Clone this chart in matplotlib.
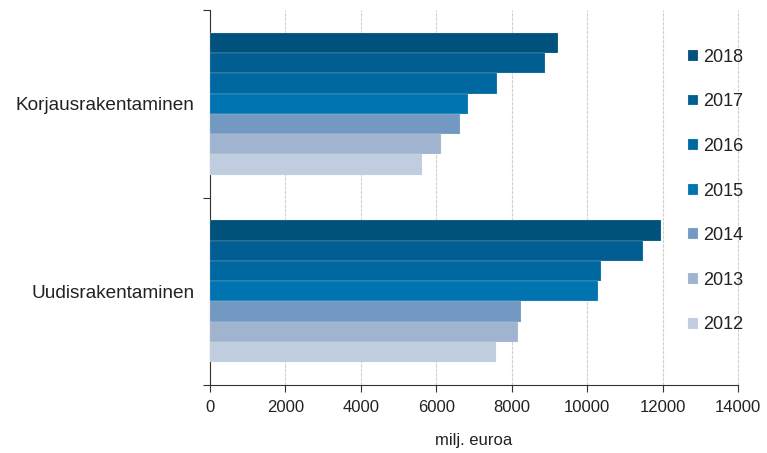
import numpy as np
import matplotlib.pyplot as plt

categories = ["Korjausrakentaminen", "Uudisrakentaminen"]
years = ["2018", "2017", "2016", "2015", "2014", "2013", "2012"]
korjaus = [9230, 8890, 7610, 6850, 6640, 6130, 5620]
uudis = [11950, 11490, 10380, 10290, 8250, 8170, 7570]
colors = ["#00527d", "#005e93", "#0068a0", "#0073b1", "#7399c2", "#a0b4cf", "#c0cdde"]

plt.rcParams['font.family'] = ['Liberation Sans', 'DejaVu Sans']

fig = plt.figure(figsize=(7.67, 4.53), dpi=100)
ax = fig.add_axes([0.2738, 0.150, 0.6884, 0.828])

values = np.array([korjaus, uudis])
centers = np.arange(len(categories)) + 0.5
h = 0.757 / len(years)
for i, y in enumerate(years):
    pos = centers - 0.757 / 2 + (i + 0.5) * h
    ax.barh(pos, values[:, i], height=h, color=colors[i], label=y,
            edgecolor="#dfe8f0", linewidth=0.15, zorder=3)

ax.set_ylim(2, 0)
ax.set_xlim(0, 14000)
ax.set_xticks(np.arange(0, 14001, 2000))
ax.set_yticks([0, 1, 2])
ax.set_yticklabels([])
ax.set_yticks(centers, minor=True)
ax.set_yticklabels(categories, minor=True, fontsize=13.7, color="#222222")
ax.tick_params(axis="y", which="minor", length=0, pad=11)
ax.tick_params(axis="y", which="major", length=5, direction="out", color="#333333")
ax.tick_params(axis="x", length=5, direction="out", color="#333333", labelsize=12,
               labelcolor="#222222", pad=6)

ax.grid(axis="x", color="#d0d0d0", linewidth=0.8, linestyle=(0, (3, 1)), zorder=0)
for gl in ax.get_xgridlines():
    gl.set_clip_on(False)
for s in ["top", "right"]:
    ax.spines[s].set_visible(False)
ax.spines["left"].set_color("#333333")
ax.spines["bottom"].set_color("#333333")

ax.set_xlabel("milj. euroa", fontsize=12, color="#222222", labelpad=13)

leg = ax.legend(loc="upper left", bbox_to_anchor=(0.875, 0.94), frameon=False,
                fontsize=13, handlelength=0.55, handleheight=0.55, handletextpad=0.3,
                labelspacing=1.53)
for t in leg.get_texts():
    t.set_color("#222222")

fig.savefig("out.png", dpi=100)
